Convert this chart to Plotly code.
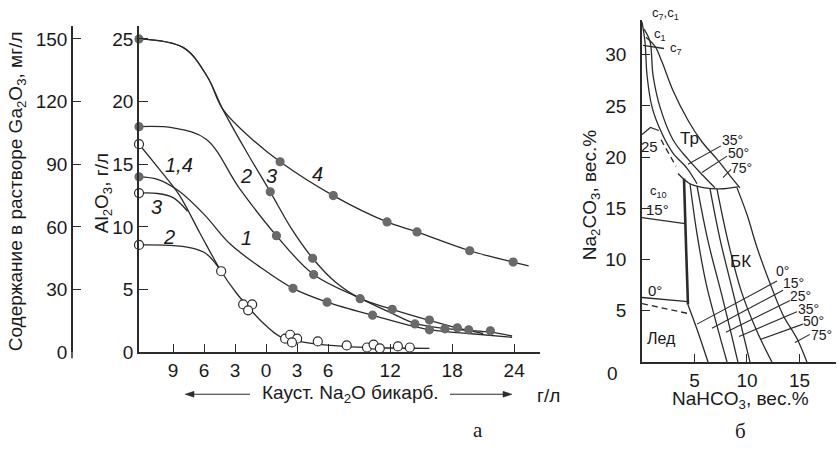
import plotly.graph_objects as go

W, H = 839, 456
INK = "#2b2b2b"
DOT = "#6a6a6a"
FONT = "Liberation Sans, Arial, sans-serif"

# ---------------- panel "а": Al2O3 / Ga2O3 vs Na2O (caustic < 0 < bicarbonate), g/L
x_ticks = [-9, -6, -3, 0, 3, 6, 12, 18, 24]
x_tick_text = ["9", "6", "3", "0", "3", "6", "12", "18", "24"]
al_ticks = [0, 5, 10, 15, 20, 25]
ga_ticks = [0, 30, 60, 90, 120, 150]

# Al2O3, g/L (solid markers)
al1_line_x = [-12.3, -10.5, -8.5, -6.0, -3.5, -0.5, 2.6, 5.9, 10.3, 15.8, 19.6, 23.8]
al1_line_y = [14.0, 13.8, 12.9, 11.0, 8.65, 6.75, 5.1, 4.0, 2.95, 1.8, 1.5, 1.2]
al1_pts_x = [-12.3, 2.6, 5.9, 10.3, 15.8]
al1_pts_y = [14.0, 5.1, 4.0, 2.96, 1.79]

al2_line_x = [-12.3, -9.0, -5.8, -2.6, 1.0, 4.6, 9.1, 12.2, 14.4, 17.3, 19.6, 21.7, 23.8]
al2_line_y = [18.0, 17.9, 17.0, 13.1, 9.3, 6.2, 4.3, 3.1, 2.3, 1.9, 1.75, 1.6, 1.3]
al2_pts_x = [-12.3, 1.0, 4.6, 9.1, 14.4, 17.3, 19.6, 21.7]
al2_pts_y = [18.0, 9.3, 6.2, 4.28, 2.26, 1.87, 1.79, 1.71]

al3_line_x = [-12.3, -8.0, -5.7, -4.2, -1.9, 0.4, 2.5, 4.5, 6.7, 9.1, 12.2, 15.8, 18.5, 21.0]
al3_line_y = [25.0, 24.3, 22.0, 19.4, 16.0, 12.8, 9.8, 7.5, 5.6, 4.3, 3.43, 2.55, 1.95, 1.5]
al3_pts_x = [0.4, 4.5, 12.2, 15.8, 18.5]
al3_pts_y = [12.8, 7.5, 3.43, 2.57, 1.95]

al4_line_x = [-12.3, -8.0, -5.7, -4.2, -1.5, 1.35, 6.5, 11.7, 14.6, 19.7, 23.9, 25.4]
al4_line_y = [25.0, 24.3, 22.0, 19.4, 17.1, 15.2, 12.5, 10.4, 9.6, 8.1, 7.2, 6.9]
al4_pts_x = [-12.3, 1.35, 6.5, 11.7, 14.6, 19.7, 23.9]
al4_pts_y = [25.0, 15.2, 12.5, 10.4, 9.6, 8.1, 7.2]

# Ga2O3, mg/L (open markers)
ga14_line_x = [-12.3, -10.4, -8.4, -6.4, -4.35, -2.9, -1.7, -0.4, 1.35, 3.3, 6.2, 10.0, 15.8]
ga14_line_y = [99.6, 88.0, 75.2, 57.0, 38.8, 28.5, 21.5, 14.5, 7.5, 5.1, 3.3, 2.3, 1.9]
ga3_line_x = [-12.3, -10.5, -9.0, -7.6]
ga3_line_y = [76.2, 76.0, 74.0, 67.5]
ga2_line_x = [-12.3, -9.5, -7.3, -5.8, -4.35]
ga2_line_y = [51.4, 51.2, 50.0, 47.2, 38.8]
ga_pts_x = [-12.3, -12.3, -12.3, -4.35, -2.22, -1.35, -1.74, 1.84, 2.32, 3.0, 2.5,
            5.0, 7.8, 9.76, 10.4, 11.0, 12.75, 13.9]
ga_pts_y = [99.6, 76.2, 51.4, 38.8, 22.9, 22.9, 20.1, 6.5, 8.4, 6.5, 4.7,
            5.2, 3.3, 2.3, 3.7, 1.9, 2.8, 2.3]

# ---------------- panel "б": Na2CO3 - NaHCO3 - H2O, wt.%
r_x_ticks = [5, 10, 15]
r_y_ticks = [5, 10, 15, 20, 25, 30]

top_a_x = [0.0, 0.29, 0.48, 0.95, 1.9, 2.95, 4.29, 5.24]
top_a_y = [33.2, 31.2, 28.0, 24.9, 22.3, 20.4, 18.9, 17.4]
top_b_x = [0.19, 0.76, 1.05, 1.71, 2.95, 4.38, 5.81, 6.95]
top_b_y = [32.5, 31.3, 28.0, 24.9, 21.7, 19.8, 18.2, 17.0]
top_c_x = [0.38, 1.24, 1.9, 2.95, 4.38, 5.71, 7.14, 8.38, 9.33]
top_c_y = [31.7, 30.8, 29.3, 26.5, 23.6, 21.5, 19.8, 18.2, 17.0]
tie_top_x = [0.1, 2.1]
tie_top_y = [30.9, 30.6]

arc_x = [3.43, 4.57, 6.0, 7.43, 9.14]
arc_y = [18.4, 17.4, 17.0, 16.9, 17.1]

c10_edge_x = [4.0, 4.19, 4.38]
c10_edge_y = [17.9, 11.5, 5.6]
bk1_x = [4.38, 5.24, 6.29]
bk1_y = [5.6, 3.2, 0.0]
bk2_x = [4.57, 5.24, 6.1, 7.05, 8.1]
bk2_y = [17.4, 12.5, 7.7, 3.9, 0.0]
bk3_x = [5.24, 6.29, 7.71, 9.14]
bk3_y = [17.2, 11.8, 6.1, 0.0]
bk4_x = [6.48, 7.43, 8.67, 10.29]
bk4_y = [16.9, 12.0, 6.8, 0.0]
bk5_x = [7.14, 8.19, 9.43, 10.95, 12.38]
bk5_y = [16.9, 11.8, 7.0, 3.0, 0.0]
bk6_x = [9.05, 10.0, 10.95, 12.19, 13.43, 14.76, 15.71]
bk6_y = [17.0, 14.4, 11.2, 7.7, 4.6, 2.3, 0.0]

# isotherms in the bicarbonate field
bk_iso_names = ["0°", "15°", "25°", "35°", "50°", "75°"]
bk_iso_x0 = [5.24, 6.67, 8.0, 9.24, 11.24, 14.57]
bk_iso_y0 = [3.7, 3.3, 2.9, 2.5, 2.2, 1.9]
bk_iso_x1 = [12.86, 13.43, 14.1, 14.76, 15.33, 16.0]
bk_iso_y1 = [7.9, 7.0, 6.0, 4.9, 3.7, 2.7]
bk_iso_lx = [13.4, 14.4, 15.1, 15.9, 16.3, 17.1]
bk_iso_ly = [8.9, 7.7, 6.4, 5.2, 4.0, 2.6]

# isotherms in the trona field
tr_iso_names = ["35°", "50°", "75°"]
tr_iso_x0 = [4.38, 5.71, 7.71]
tr_iso_y0 = [19.3, 18.5, 18.0]
tr_iso_x1 = [7.52, 8.1, 8.48]
tr_iso_y1 = [21.1, 20.1, 18.8]
tr_iso_lx = [8.6, 9.2, 9.5]
tr_iso_ly = [21.7, 20.4, 18.9]

# decahydrate / ice field lines
iso15_x = [0.0, 4.1]
iso15_y = [14.1, 13.5]
iso0_x = [0.0, 4.38]
iso0_y = [6.3, 5.9]
ice_x = [0.0, 4.57]
ice_y = [5.7, 4.7]
hept25_x = [0.0, 0.8, 1.6]
hept25_y = [22.2, 22.9, 22.6]
meta_x = [1.81, 3.24]
meta_y = [21.7, 19.1]

fig = go.Figure()


def add_line(x, y, xa, ya, width=1.3, dash=None, shape="spline"):
    fig.add_trace(go.Scatter(
        x=x, y=y, xaxis=xa, yaxis=ya, mode="lines",
        line=dict(color=INK, width=width, shape=shape, smoothing=1.0, dash=dash),
        hoverinfo="skip", showlegend=False))


def add_dots(x, y, ya, filled=True):
    fig.add_trace(go.Scatter(
        x=x, y=y, xaxis="x", yaxis=ya, mode="markers", cliponaxis=False,
        marker=dict(size=8 if filled else 9, symbol="circle",
                    color=DOT if filled else "white",
                    line=dict(color=DOT if filled else INK, width=1.2)),
        hoverinfo="skip", showlegend=False))


# panel а curves
for lx, ly in [(al1_line_x, al1_line_y), (al2_line_x, al2_line_y),
               (al3_line_x, al3_line_y), (al4_line_x, al4_line_y)]:
    add_line(lx, ly, "x", "y")
for lx, ly in [(ga14_line_x, ga14_line_y), (ga3_line_x, ga3_line_y),
               (ga2_line_x, ga2_line_y)]:
    add_line(lx, ly, "x", "y2")
for px_, py_ in [(al1_pts_x, al1_pts_y), (al2_pts_x, al2_pts_y),
                 (al3_pts_x, al3_pts_y), (al4_pts_x, al4_pts_y)]:
    add_dots(px_, py_, "y", True)
add_dots(ga_pts_x, ga_pts_y, "y2", False)

# panel б curves
for lx, ly in [(top_a_x, top_a_y), (top_b_x, top_b_y), (top_c_x, top_c_y),
               (arc_x, arc_y), (bk1_x, bk1_y), (bk2_x, bk2_y), (bk3_x, bk3_y),
               (bk4_x, bk4_y), (bk5_x, bk5_y), (bk6_x, bk6_y)]:
    add_line(lx, ly, "x2", "y3")
add_line(c10_edge_x, c10_edge_y, "x2", "y3", width=2.6)
for lx, ly in [(tie_top_x, tie_top_y), (iso15_x, iso15_y), (iso0_x, iso0_y),
               (hept25_x, hept25_y)]:
    add_line(lx, ly, "x2", "y3", shape="linear")
add_line(ice_x, ice_y, "x2", "y3", dash="6px,4px", shape="linear")
add_line(meta_x, meta_y, "x2", "y3", dash="6px,4px", shape="linear")
for i in range(len(bk_iso_names)):
    add_line([bk_iso_x0[i], bk_iso_x1[i]], [bk_iso_y0[i], bk_iso_y1[i]], "x2", "y3",
             width=1.1, shape="linear")
for i in range(len(tr_iso_names)):
    add_line([tr_iso_x0[i], tr_iso_x1[i]], [tr_iso_y0[i], tr_iso_y1[i]], "x2", "y3",
             width=1.1, shape="linear")


def px(v):
    return v / W


def py(v):
    return 1 - v / H


anns = []


def note(text, x, y, xref="paper", yref="paper", size=19, angle=0, italic=False,
         family=FONT, xanchor="center"):
    if italic:
        text = "<i>" + text + "</i>"
    anns.append(dict(text=text, x=x, y=y, xref=xref, yref=yref, showarrow=False,
                     textangle=angle, xanchor=xanchor, yanchor="middle",
                     font=dict(family=family, size=size, color="#1a1a1a")))


# axis titles and captions
note("Содержание в растворе Ga<sub>2</sub>O<sub>3</sub>, мг/л", px(17), py(196), angle=-90)
note("Al<sub>2</sub>O<sub>3</sub>, г/л", px(103), py(198), angle=-90)
note("Кауст. Na<sub>2</sub>O бикарб.", px(350), py(404))
note("г/л", px(548), py(405))
note("Na<sub>2</sub>CO<sub>3</sub>, вес.%", px(591), py(200), angle=-90)
note("NaHCO<sub>3</sub>, вес.%", px(740), py(410))
note("0", px(612), py(383))
note("c<sub>7</sub>,c<sub>1</sub>", px(665), py(14), size=13)
note("а", px(478), py(441), family="Liberation Serif, Times New Roman, serif", size=21)
note("б", px(740), py(442), family="Liberation Serif, Times New Roman, serif", size=21)

# curve numbers, panel а
for t, x, y in [("1,4", -8.4, 14.9), ("3", -10.6, 11.6), ("2", -9.4, 9.2),
                ("2", -1.9, 14.1), ("3", 0.5, 14.1), ("4", 5.0, 14.25), ("1", -1.9, 9.1)]:
    note(t, x, y, xref="x", yref="y", size=20, italic=True)

# field labels, panel б
for t, x, y, s in [("c<sub>1</sub>", 1.75, 32.0, 13), ("c<sub>7</sub>", 3.2, 30.6, 13),
                   ("c<sub>10</sub>", 1.55, 16.6, 13),
                   ("Тр", 4.5, 21.8, 17), ("БК", 9.4, 9.8, 17), ("Лед", 1.9, 2.3, 16),
                   ("25", 0.76, 21.0, 15), ("15°", 1.45, 14.9, 15), ("0°", 1.25, 7.0, 15)]:
    note(t, x, y, xref="x2", yref="y3", size=s)
for names, lx, ly in [(bk_iso_names, bk_iso_lx, bk_iso_ly), (tr_iso_names, tr_iso_lx, tr_iso_ly)]:
    for i in range(len(names)):
        note(names[i], lx[i], ly[i], xref="x2", yref="y3", size=14)

# direction arrows under panel а (shaft + head)
shapes = []
arrow_y = py(404)
for tip, tail in [(185, 250), (512, 450)]:
    d = 1 if tail > tip else -1
    shapes.append(dict(type="line", xref="paper", yref="paper", x0=px(tail), x1=px(tip + d * 6),
                       y0=arrow_y, y1=arrow_y, line=dict(color=INK, width=1.2)))
    shapes.append(dict(type="path", xref="paper", yref="paper", fillcolor=INK,
                       line=dict(color=INK, width=0.5),
                       path=f"M {px(tip)},{arrow_y} L {px(tip + d * 9)},{py(401)} "
                            f"L {px(tip + d * 9)},{py(407)} Z"))
# Ga2O3 scale line runs slightly below the zero tick
shapes.append(dict(type="line", xref="paper", yref="paper", x0=px(72), x1=px(72),
                   y0=py(367), y1=py(27), line=dict(color=INK, width=1.5)))

axis_common = dict(showgrid=False, zeroline=False, showline=True, linecolor=INK,
                   linewidth=1.5, ticks="inside", tickcolor=INK, tickwidth=1.3,
                   tickfont=dict(family=FONT, size=19, color="#1a1a1a"))

fig.update_layout(
    width=W, height=H, margin=dict(l=0, r=0, t=0, b=0),
    paper_bgcolor="white", plot_bgcolor="rgba(0,0,0,0)", showlegend=False,
    font=dict(family=FONT, color="#1a1a1a"),
    xaxis=dict(domain=[px(139), px(540)], range=[-12.3, 26.5], anchor="y",
               tickvals=x_ticks, ticktext=x_tick_text, ticklen=9, **axis_common),
    yaxis=dict(domain=[py(361), py(27)], range=[0, 26.0], anchor="x",
               tickvals=al_ticks, ticklen=9, **axis_common),
    yaxis2=dict(overlaying="y", anchor="free", position=px(72), side="left",
                range=[0, 156.0], tickvals=ga_ticks, ticklen=8, **axis_common),
    xaxis2=dict(domain=[px(642), px(836)], range=[0, 18.48], anchor="y3",
                tickvals=r_x_ticks, ticklen=8, **axis_common),
    yaxis3=dict(domain=[py(371), py(20)], range=[0, 33.43], anchor="x2",
                tickvals=r_y_ticks, ticklen=8, ticklabelstandoff=10, **axis_common),
    annotations=anns,
    shapes=shapes,
)

fig.write_html("out.html")
